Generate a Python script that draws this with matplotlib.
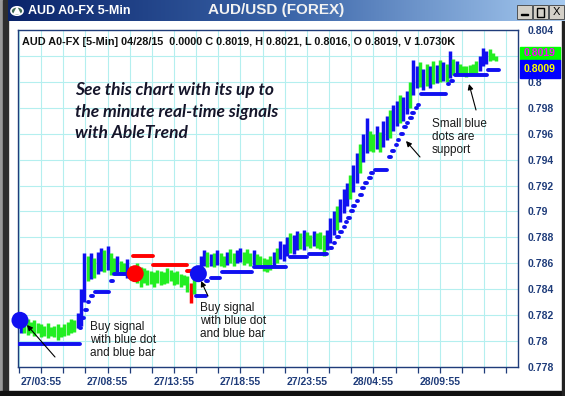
import numpy as np
import matplotlib.pyplot as plt
from matplotlib.patches import Rectangle, Circle, Polygon, FancyArrowPatch
from matplotlib.colors import LinearSegmentedColormap

# 5-min bars, x = bar index counted from 27/03:55, one entry every 3 bars
bar_x = np.arange(-18, 412, 3)
highs = [0.7822, 0.7818, 0.7817, 0.7815, 0.7816, 0.7814, 0.7813, 0.7812, 0.7814, 0.7811,
         0.7812, 0.7813, 0.7811, 0.7813, 0.7815, 0.7817, 0.7816, 0.7822,
         0.7840, 0.7868,
         0.7866, 0.7868, 0.7864, 0.7869, 0.7872, 0.7870, 0.7873, 0.7868, 0.7864, 0.7866,
         0.7862, 0.7860, 0.7863, 0.7858,
         0.7857, 0.7860, 0.7857, 0.7856, 0.7855, 0.7854, 0.7853, 0.7855, 0.7854, 0.7853,
         0.7856, 0.7855, 0.7853, 0.7854, 0.7852, 0.7851, 0.7850, 0.7845, 0.7851, 0.7856,
         0.7866, 0.7870, 0.7869, 0.7867, 0.7868, 0.7870, 0.7868, 0.7866, 0.7869, 0.7871,
         0.7868, 0.7870, 0.7872, 0.7869, 0.7871, 0.7868, 0.7870, 0.7867, 0.7866, 0.7864,
         0.7863, 0.7866, 0.7869, 0.7872, 0.7877, 0.7875, 0.7880, 0.7883, 0.7882, 0.7885,
         0.7883, 0.7886, 0.7884, 0.7882, 0.7885, 0.7883, 0.7884, 0.7882, 0.7886,
         0.7895, 0.7900, 0.7904, 0.7910, 0.7917, 0.7922, 0.7928, 0.7936, 0.7945, 0.7952,
         0.7960, 0.7972, 0.7962, 0.7960, 0.7966, 0.7961, 0.7970, 0.7974, 0.7978, 0.7982,
         0.7985, 0.7990, 0.7988, 0.7993, 0.8000, 0.8017,
         0.8012, 0.8015, 0.8010, 0.8014, 0.8012, 0.8016, 0.8013, 0.8017, 0.8015, 0.8014,
         0.8024, 0.8018, 0.8016, 0.8014, 0.8012, 0.8012, 0.8013, 0.8014, 0.8016, 0.8020,
         0.8026, 0.8024, 0.8025, 0.8022, 0.8020]
lows = [0.7806, 0.7806, 0.7805, 0.7806, 0.7804, 0.7806, 0.7803, 0.7804, 0.7802, 0.7804,
        0.7803, 0.7801, 0.7803, 0.7804, 0.7805, 0.7806, 0.7807, 0.7810,
        0.7812, 0.7830,
        0.7846, 0.7848, 0.7849, 0.7852, 0.7854, 0.7853, 0.7855, 0.7851, 0.7852, 0.7853,
        0.7852, 0.7851, 0.7849, 0.7850,
        0.7846, 0.7845, 0.7842, 0.7845, 0.7843, 0.7844, 0.7842, 0.7845, 0.7843, 0.7844,
        0.7845, 0.7846, 0.7843, 0.7844, 0.7842, 0.7843, 0.7838, 0.7829, 0.7836, 0.7846,
        0.7856, 0.7858, 0.7857, 0.7858, 0.7857, 0.7859, 0.7858, 0.7857, 0.7859, 0.7860,
        0.7858, 0.7860, 0.7861, 0.7859, 0.7860, 0.7858, 0.7859, 0.7857, 0.7856, 0.7854,
        0.7853, 0.7855, 0.7857, 0.7860, 0.7863, 0.7862, 0.7866, 0.7868, 0.7867, 0.7870,
        0.7871, 0.7870, 0.7873, 0.7872, 0.7873, 0.7872, 0.7871, 0.7866, 0.7870,
        0.7876, 0.7882, 0.7886, 0.7892, 0.7899, 0.7904, 0.7910, 0.7915, 0.7922, 0.7930,
        0.7938, 0.7945, 0.7947, 0.7946, 0.7948, 0.7946, 0.7950, 0.7955, 0.7957, 0.7962,
        0.7966, 0.7968, 0.7970, 0.7975, 0.7980, 0.7990,
        0.7995, 0.7996, 0.7994, 0.7997, 0.7995, 0.7998, 0.7999, 0.8000, 0.8001, 0.8000,
        0.8003, 0.8005, 0.8006, 0.8005, 0.8005, 0.8004, 0.8005, 0.8006, 0.8007, 0.8008,
        0.8012, 0.8014, 0.8016, 0.8017, 0.8016]
bar_colors = ("bggggggggggggggggb" + "bb" + "gbgbbgbggbggbg" + "gggggggggggggggggrgb"
              + "bbgbgbggbggbbgggbgggggbgbbbgbbgbggbgggb"
              + "bbgbbbgbbgbbggbgbbgbbgbbgb" + "bgbgbgbgbgbgbggggggbbbggg")

# support (blue dots / bars): start bar, end bar, price
sup_start = [-22, 35, 37, 40, 42, 45, 49, 63, 66, 140, 149, 153, 163, 192, 225, 242,
             261, 264, 267, 270, 273, 275, 277, 280, 282, 285, 288, 290, 292, 296, 298,
             301, 314, 317, 320, 322, 325, 328, 330, 333, 335, 338, 340, 343, 367, 370,
             374, 403]
sup_end = [34, 35, 37, 40, 42, 45, 60, 63, 82, 147, 149, 160, 189, 220, 239, 257,
           261, 264, 267, 270, 273, 275, 277, 280, 282, 285, 288, 290, 293, 296, 298,
           311, 314, 317, 320, 322, 325, 328, 330, 333, 335, 338, 340, 364, 367, 370,
           401, 412]
sup_price = [0.7798, 0.7810, 0.7818, 0.7824, 0.7830, 0.7835, 0.7838, 0.7846, 0.7852,
             0.7835, 0.7846, 0.7849, 0.7853, 0.7857, 0.7865, 0.7867, 0.7872, 0.7876,
             0.7880, 0.7884, 0.7888, 0.7892, 0.7895, 0.7900, 0.7904, 0.7908, 0.7913,
             0.7918, 0.7922, 0.7926, 0.7930, 0.7932, 0.7942, 0.7947, 0.7951, 0.7955,
             0.7960, 0.7965, 0.7968, 0.7972, 0.7976, 0.7980, 0.7982, 0.7991, 0.7998,
             0.8001, 0.8005, 0.8009]

# resistance (red) after the sell dot
res_start = [83, 101, 132]
res_end = [101, 132, 136]
res_price = [0.7866, 0.7859, 0.7854]

# big signal dots
sig_x = [-19, 85, 142]
sig_price = [0.7816, 0.7852, 0.7852]
sig_color = ['#1010f0', '#ff0000', '#1010f0']

tick_pos = np.arange(-20, 421, 20)
label_pos = [0, 60, 120, 180, 240, 300, 360]
label_txt = ['27/03:55', '27/08:55', '27/13:55', '27/18:55', '27/23:55', '28/04:55', '28/09:55']
y_ticks = np.arange(0.778, 0.8041, 0.002)

last_close = 0.8019
last_support = 0.8009

BLUE = '#1010f0'
GREEN = '#22ee22'
RED = '#ff0000'
NAVY = '#1f3c7a'
cmap = {'b': BLUE, 'g': GREEN, 'r': RED}

W, H = 565, 396
fig = plt.figure(figsize=(W / 100, H / 100), dpi=100)
fig.patch.set_facecolor('white')


def fx(px):
    return px / W


def fy(py):
    return 1 - py / H


ax = fig.add_axes([fx(18), fy(367), fx(518) - fx(18), fy(30) - fy(367)])
ax.set_xlim(-20.8, 430.5)
ax.set_ylim(0.7780, 0.80395)

ax.vlines(bar_x, lows, highs, colors=[cmap[c] for c in bar_colors], linewidth=2.5, zorder=3)

for s, e, p in zip(sup_start, sup_end, sup_price):
    ax.plot([s, e + 1.5], [p, p], color=BLUE, lw=2.8, solid_capstyle='round', zorder=4)
for s, e, p in zip(res_start, res_end, res_price):
    ax.plot([s, e], [p, p], color=RED, lw=2.8, solid_capstyle='round', zorder=4)
ax.scatter(sig_x, sig_price, s=150, c=sig_color, zorder=6, clip_on=False, linewidths=0)

ax.set_xticks(tick_pos)
ax.set_xticklabels([label_txt[label_pos.index(t)] if t in label_pos else '' for t in tick_pos])
ax.set_yticks(y_ticks)
# 0.802 sits under the last-value boxes
ax.set_yticklabels(['' if abs(v - 0.802) < 1e-6 else f"{v:.3f}".rstrip('0') for v in y_ticks])
ax.yaxis.tick_right()
ax.tick_params(axis='y', length=0, pad=7, labelcolor=NAVY, labelsize=7.5)
ax.tick_params(axis='x', length=4, width=0.9, color=NAVY, pad=3, labelcolor=NAVY, labelsize=7.5)
for lab in ax.get_xticklabels() + ax.get_yticklabels():
    lab.set_fontweight('bold')
    lab.set_fontfamily('Liberation Sans')
ax.grid(color='#b4efef', lw=0.8, zorder=0)
ax.set_axisbelow(True)
for sp in ax.spines.values():
    sp.set_color(NAVY)
    sp.set_linewidth(1.0)

# window frame
fig.add_artist(Rectangle((0, 0), fx(3), 1, transform=fig.transFigure, color='#9a9a9a', zorder=0))
fig.add_artist(Rectangle((fx(3), 0), fx(5), 1, transform=fig.transFigure, color='#2e2e2e', zorder=0))
fig.add_artist(Rectangle((0, 0), 1, 5 / H, transform=fig.transFigure, color='#111111', zorder=0))
fig.add_artist(Rectangle((fx(562), 0), fx(3), 1, transform=fig.transFigure, color='#222222', zorder=0))

# title bar gradient
axt = fig.add_axes([fx(8), fy(21), 1 - fx(8), 21 / H])
grad = LinearSegmentedColormap.from_list('tb', ['#0a246a', '#3a64a8', '#a6caf0'])
axt.imshow(np.linspace(0, 1, 256)[None, :], cmap=grad, aspect='auto', extent=[0, 1, 0, 1])
axt.axis('off')
fig.add_artist(Circle((fx(17), fy(11)), 6 / W, transform=fig.transFigure,
                      facecolor='#3f6b55', edgecolor='white', lw=1.2))
fig.add_artist(Polygon([(fx(17), fy(6)), (fx(13), fy(14)), (fx(21), fy(14))],
                       transform=fig.transFigure, facecolor='white', edgecolor='none'))
fig.text(fx(28), fy(11), 'AUD A0-FX 5-Min', color='white', fontsize=9, fontweight='bold',
         family='Liberation Sans', va='center')
fig.text(fx(276), fy(10), 'AUD/USD (FOREX)', color='#f2f2f2', fontsize=11, fontweight='bold',
         family='Liberation Sans', va='center', ha='center')
for bx in [517, 533, 549]:
    fig.add_artist(Rectangle((fx(bx), fy(19)), fx(15), 14 / H, transform=fig.transFigure,
                             facecolor='#d4d0c8', edgecolor='#404040', lw=0.6))
fig.add_artist(Rectangle((fx(521), fy(15)), fx(7), 1.5 / H, transform=fig.transFigure, color='black'))
fig.add_artist(Rectangle((fx(537), fy(16.5)), fx(7), 9 / H, transform=fig.transFigure,
                         facecolor='none', edgecolor='black', lw=1.0))
fig.text(fx(556.5), fy(12), 'X', fontsize=8, family='Liberation Sans', ha='center', va='center')

# header line
fig.text(fx(22), fy(42), 'AUD A0-FX [5-Min] 04/28/15  0.0000 C 0.8019, H 0.8021, L 0.8016, '
         'O 0.8019, V 1.0730K', fontsize=7.8, fontweight='bold', family='Liberation Sans',
         va='center', color='#111111')

# last value boxes
fig.add_artist(Rectangle((fx(520), fy(60)), fx(40), 13 / H, transform=fig.transFigure,
                         color='#00ff00', zorder=5))
fig.add_artist(Rectangle((fx(520), fy(78)), fx(40), 18 / H, transform=fig.transFigure,
                         color='#0000ff', zorder=5))
fig.text(fx(540), fy(53.5), f"{last_close:.4f}", color='#ff00ff', fontsize=7.5, fontweight='bold',
         family='Liberation Sans', ha='center', va='center', zorder=6)
fig.text(fx(540), fy(69), f"{last_support:.4f}", color='#ffff00', fontsize=7.5, fontweight='bold',
         family='Liberation Sans', ha='center', va='center', zorder=6)

# promo text
for txt, py in [('See this chart with its up to', 90), ('the minute real-time signals', 112),
                ('with AbleTrend', 133)]:
    fig.text(fx(75), fy(py), txt, fontsize=12.5, family='Lato', fontweight='bold',
             style='italic', color='#15152a', va='center')

# annotations
ann_kw = dict(fontsize=8.5, family='Liberation Sans', color='#1a1a1a', va='center', linespacing=1.15)
fig.text(fx(90), fy(340), 'Buy signal\nwith blue dot\nand blue bar', **ann_kw)
fig.text(fx(200), fy(321), 'Buy signal\nwith blue dot\nand blue bar', **ann_kw)
fig.text(fx(432), fy(137), 'Small blue\ndots are\nsupport', **ann_kw)

arrow_kw = dict(arrowstyle='-|>', color='black', lw=0.8, mutation_scale=8, shrinkA=0, shrinkB=0)
for (x0, y0), (x1, y1) in [((55, 357), (27, 325)), ((208, 296), (201, 281)),
                           ((420, 157), (406, 141)), ((476, 110), (469, 84))]:
    fig.add_artist(FancyArrowPatch((fx(x0), fy(y0)), (fx(x1), fy(y1)),
                                   transform=fig.transFigure, **arrow_kw))

fig.savefig('out.png', dpi=100)
